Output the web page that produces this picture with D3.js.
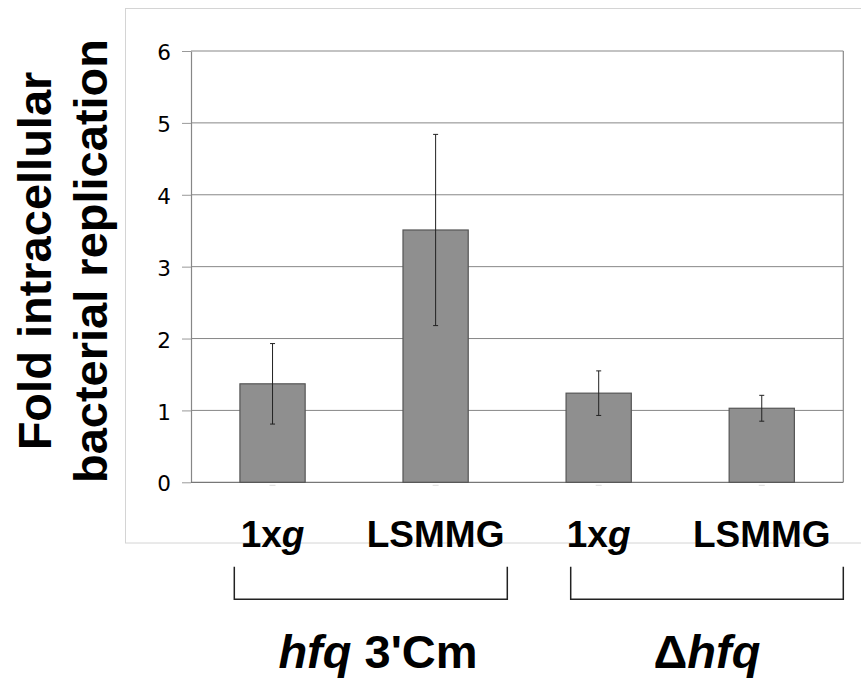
<!DOCTYPE html>
<html>
<head>
<meta charset="utf-8">
<script src="https://cdn.jsdelivr.net/npm/d3@7"></script>
<style>
  html, body { margin: 0; padding: 0; background: #fff; }
  svg { display: block; }
</style>
</head>
<body>
<script>
// ---- data ----
const categories = ["1xg_a", "LSMMG_a", "1xg_b", "LSMMG_b"];
const categoryLabels = [["1x", "g"], ["LSMMG", ""], ["1x", "g"], ["LSMMG", ""]];
const values = [1.37, 3.51, 1.24, 1.03];
const errors = [0.56, 1.33, 0.31, 0.18];
const yTicks = [0, 1, 2, 3, 4, 5, 6];
const groups = [
  { italic: "hfq", rest: " 3'Cm", prefix: "", from: 0, to: 1 },
  { italic: "hfq", rest: "", prefix: "\u0394", from: 2, to: 3 }
];
const yTitle = ["Fold intracellular", "bacterial replication"];

// ---- layout ----
const W = 861, H = 683;
const plot = { left: 191, right: 843.3, top: 51, bottom: 482.3 };
const font = "'Liberation Sans', Arial, sans-serif";

const svg = d3.select("body").append("svg").attr("width", W).attr("height", H);

// outer chart frame
svg.append("rect")
  .attr("x", 125.5).attr("y", 8.5)
  .attr("width", 760).attr("height", 534.5)
  .attr("fill", "none").attr("stroke", "#d4d4d4").attr("stroke-width", 1);

const x = d3.scaleBand().domain(categories).range([plot.left, plot.right]).paddingInner(0.6).paddingOuter(0.3);
const y = d3.scaleLinear().domain([0, 6]).range([plot.bottom, plot.top]);

// gridlines
svg.append("g").selectAll("line").data(yTicks.filter(d => d > 0)).join("line")
  .attr("x1", plot.left).attr("x2", plot.right)
  .attr("y1", d => y(d)).attr("y2", d => y(d))
  .attr("stroke", "#878787").attr("stroke-width", 1);

// right border
svg.append("line")
  .attr("x1", plot.right).attr("x2", plot.right)
  .attr("y1", plot.top).attr("y2", plot.bottom)
  .attr("stroke", "#878787").attr("stroke-width", 1.2);

// y axis
const yAxis = svg.append("g")
  .attr("transform", `translate(${plot.left},0)`)
  .call(d3.axisLeft(y).tickValues(yTicks).tickFormat(d3.format("d")).tickSize(9).tickPadding(11).tickSizeOuter(0));
yAxis.select(".domain").attr("stroke", "#878787").attr("stroke-width", 1.2);
yAxis.selectAll(".tick line").attr("stroke", "#999");
yAxis.selectAll(".tick text")
  .attr("font-family", "'DejaVu Sans', Verdana, sans-serif")
  .attr("font-size", 21.5).attr("fill", "#000").attr("dy", "0.4em");

// x axis baseline
svg.append("line")
  .attr("x1", plot.left).attr("x2", plot.right)
  .attr("y1", y(0)).attr("y2", y(0))
  .attr("stroke", "#777").attr("stroke-width", 1.2);

// faint x ticks
svg.append("g").selectAll("line").data(categories).join("line")
  .attr("x1", d => x(d) + x.bandwidth() / 2 - 3).attr("x2", d => x(d) + x.bandwidth() / 2 + 3)
  .attr("y1", y(0) + 3).attr("y2", y(0) + 3)
  .attr("stroke", "#ddd").attr("stroke-width", 1);

// bars
svg.append("g").selectAll("rect").data(values).join("rect")
  .attr("x", (d, i) => x(categories[i]))
  .attr("y", d => y(d))
  .attr("width", x.bandwidth())
  .attr("height", d => y(0) - y(d))
  .attr("fill", "#8f8f8f").attr("stroke", "#555").attr("stroke-width", 1.2);

// error bars
const eb = svg.append("g").attr("stroke", "#222").attr("stroke-width", 1);
values.forEach((v, i) => {
  const cx = x(categories[i]) + x.bandwidth() / 2;
  eb.append("line").attr("x1", cx).attr("x2", cx).attr("y1", y(v + errors[i])).attr("y2", y(v - errors[i]));
  [v + errors[i], v - errors[i]].forEach(e => {
    eb.append("line").attr("x1", cx - 2.5).attr("x2", cx + 2.5).attr("y1", y(e)).attr("y2", y(e));
  });
});

// category labels
const cl = svg.append("g");
categories.forEach((c, i) => {
  const t = cl.append("text")
    .attr("x", x(c) + x.bandwidth() / 2).attr("y", 547)
    .attr("text-anchor", "middle")
    .attr("font-family", font).attr("font-weight", "bold").attr("font-size", 37);
  t.append("tspan").text(categoryLabels[i][0]);
  if (categoryLabels[i][1]) t.append("tspan").attr("font-style", "italic").text(categoryLabels[i][1]);
});

// brackets
const bracketPx = [[234.3, 507.3], [570.7, 843.3]];
groups.forEach((g, gi) => {
  const [bx1, bx2] = bracketPx[gi];
  svg.append("path")
    .attr("d", `M${bx1},566.7 V599.3 H${bx2} V566.7`)
    .attr("fill", "none").attr("stroke", "#222").attr("stroke-width", 1.5);
});

// group labels
const groupCenters = [378, 707];
groups.forEach((g, gi) => {
  const t = svg.append("text")
    .attr("x", groupCenters[gi]).attr("y", 668)
    .attr("text-anchor", "middle")
    .attr("font-family", font).attr("font-weight", "bold").attr("font-size", 47);
  if (g.prefix) t.append("tspan").text(g.prefix);
  t.append("tspan").attr("font-style", "italic").text(g.italic);
  if (g.rest) t.append("tspan").text(g.rest);
});

// y title
const yt = svg.append("text")
  .attr("transform", "translate(0,261) rotate(-90)")
  .attr("text-anchor", "middle")
  .attr("font-family", font).attr("font-weight", "bold").attr("font-size", 47);
yt.append("tspan").attr("x", 0).attr("y", 50.7).text(yTitle[0]);
yt.append("tspan").attr("x", 0).attr("y", 107).text(yTitle[1]);
</script>
</body>
</html>
